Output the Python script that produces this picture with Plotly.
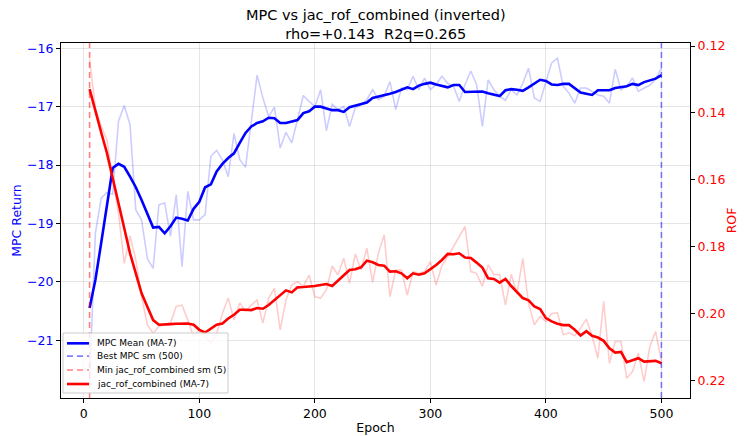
import plotly.graph_objects as go

epochs = list(range(5, 501, 5))

mpc_raw = [
    -21.71, -19.17, -18.57, -18.47, -18.50, -17.25, -16.98, -17.31, -18.77, -18.94,
    -19.60, -19.77, -18.68, -18.65, -19.22, -18.51, -19.74, -18.45, -18.94, -18.94,
    -18.85, -17.85, -17.75, -17.91, -18.20, -17.46, -17.91, -18.04, -17.25, -16.46,
    -16.85, -17.17, -17.01, -17.71, -17.44, -17.62, -17.22, -16.81, -16.91, -17.00,
    -16.71, -17.41, -16.96, -17.05, -17.00, -17.34, -17.02, -16.97, -16.88, -16.71,
    -16.88, -16.82, -16.57, -17.05, -16.68, -16.71, -16.48, -16.71, -16.51, -16.71,
    -16.62, -16.48, -16.60, -16.65, -16.91, -16.62, -16.39, -16.62, -17.34, -16.54,
    -16.71, -16.82, -16.89, -16.71, -16.80, -16.60, -16.34, -16.85, -16.91, -16.57,
    -16.25, -16.17, -16.65, -16.77, -16.94, -16.68, -16.68, -16.74, -16.80, -16.82,
    -16.94, -16.36, -16.71, -16.65, -16.51, -16.74, -16.68, -16.63, -16.53, -16.34,
]

mpc_ma7 = [
    -20.45, -19.97, -19.34, -18.65, -18.05, -17.98, -18.03, -18.20, -18.38, -18.60,
    -18.83, -19.07, -19.06, -19.17, -19.05, -18.90, -18.92, -18.95, -18.75, -18.63,
    -18.38, -18.33, -18.11, -17.98, -17.88, -17.80, -17.62, -17.45, -17.34, -17.28,
    -17.25, -17.19, -17.20, -17.28, -17.28, -17.25, -17.23, -17.11, -17.08, -17.00,
    -17.00, -17.03, -17.06, -17.06, -17.09, -17.01, -16.98, -16.96, -16.93, -16.85,
    -16.83, -16.81, -16.78, -16.75, -16.71, -16.67, -16.70, -16.64, -16.61, -16.59,
    -16.62, -16.65, -16.67, -16.63, -16.63, -16.75, -16.75, -16.75, -16.74, -16.77,
    -16.80, -16.82, -16.72, -16.70, -16.71, -16.73, -16.67, -16.60, -16.54, -16.56,
    -16.62, -16.63, -16.61, -16.61, -16.68, -16.76, -16.78, -16.80, -16.72, -16.72,
    -16.72, -16.68, -16.67, -16.65, -16.61, -16.63, -16.58, -16.55, -16.52, -16.46,
]

rof_raw = [
    0.1240, 0.1385, 0.1440, 0.1480, 0.1600, 0.1700, 0.1850, 0.1768, 0.1840, 0.1950,
    0.2034, 0.2059, 0.2039, 0.2034, 0.2029, 0.1979, 0.1975, 0.2020, 0.2069, 0.2049,
    0.2069, 0.2089, 0.2059, 0.2000, 0.1954, 0.2020, 0.1969, 0.1994, 0.1975, 0.1960,
    0.2029, 0.1954, 0.1925, 0.2049, 0.1960, 0.1915, 0.1905, 0.1920, 0.1885, 0.1950,
    0.1954, 0.1930, 0.1858, 0.1885, 0.1835, 0.1910, 0.1822, 0.1870, 0.1805, 0.1907,
    0.1820, 0.1765, 0.1950, 0.1870, 0.1870, 0.1945, 0.1875, 0.1880, 0.1875, 0.1845,
    0.1915, 0.1857, 0.1830, 0.1800, 0.1770, 0.1740, 0.1875, 0.1880, 0.1919, 0.1855,
    0.1884, 0.1884, 0.1975, 0.1883, 0.1940, 0.1835, 0.1970, 0.2034, 0.2009, 0.2024,
    0.2000, 0.1998, 0.2064, 0.2058, 0.2067, 0.2044, 0.2017, 0.2067, 0.2134, 0.1964,
    0.2149, 0.2084, 0.2084, 0.2194, 0.2174, 0.2119, 0.2204, 0.2099, 0.2054, 0.2144,
]

rof_ma7 = [
    0.1329, 0.1396, 0.1458, 0.1520, 0.1595, 0.1670, 0.1750, 0.1820, 0.1880, 0.1940,
    0.1980, 0.2020, 0.2034, 0.2034, 0.2032, 0.2031, 0.2030, 0.2030, 0.2034, 0.2049,
    0.2057, 0.2046, 0.2034, 0.2030, 0.2015, 0.2004, 0.1989, 0.1989, 0.1990, 0.1984,
    0.1986, 0.1975, 0.1960, 0.1945, 0.1931, 0.1937, 0.1922, 0.1921, 0.1920, 0.1918,
    0.1915, 0.1912, 0.1918, 0.1901, 0.1885, 0.1870, 0.1868, 0.1862, 0.1842, 0.1847,
    0.1855, 0.1857, 0.1875, 0.1874, 0.1880, 0.1895, 0.1880, 0.1884, 0.1880, 0.1868,
    0.1855, 0.1840, 0.1822, 0.1823, 0.1820, 0.1833, 0.1834, 0.1848, 0.1863, 0.1895,
    0.1897, 0.1908, 0.1897, 0.1918, 0.1937, 0.1954, 0.1961, 0.1979, 0.1987, 0.2014,
    0.2024, 0.2031, 0.2035, 0.2035, 0.2049, 0.2066, 0.2053, 0.2067, 0.2072, 0.2082,
    0.2104, 0.2117, 0.2115, 0.2146, 0.2140, 0.2134, 0.2144, 0.2142, 0.2142, 0.2149,
]

best_mpc_epoch = 500
min_rof_epoch = 5

x_ticks = [0, 100, 200, 300, 400, 500]
left_ticks = [-16, -17, -18, -19, -20, -21]
right_ticks = [0.12, 0.14, 0.16, 0.18, 0.20, 0.22]

title_line1 = "MPC vs jac_rof_combined (inverted)"
title_line2 = "rho=+0.143  R2q=0.265"

legend_names = [
    "MPC Mean (MA-7)",
    f"Best MPC sm ({best_mpc_epoch})",
    f"Min jac_rof_combined sm ({min_rof_epoch})",
    "jac_rof_combined (MA-7)",
]

FONT = "DejaVu Sans"

BLUE = "#0000ff"
RED = "#ff0000"
BLUE_RAW = "rgba(0,0,255,0.2)"
RED_RAW = "rgba(255,0,0,0.2)"
BLUE_V = "rgba(0,0,255,0.5)"
RED_V = "rgba(255,0,0,0.5)"
DASH = "6px,4px"

legend_styles = [
    dict(color=BLUE, width=2.6, dash="solid"),
    dict(color=BLUE_V, width=1.6, dash=DASH),
    dict(color=RED_V, width=1.6, dash=DASH),
    dict(color=RED, width=2.6, dash="solid"),
]

fig = go.Figure()

fig.add_trace(go.Scatter(x=epochs, y=mpc_raw, mode="lines",
                         line=dict(color=BLUE_RAW, width=1.6), hoverinfo="skip"))
fig.add_trace(go.Scatter(x=epochs, y=mpc_ma7, mode="lines", name=legend_names[0],
                         line=legend_styles[0]))
fig.add_trace(go.Scatter(x=[best_mpc_epoch, best_mpc_epoch], y=[0, 1], yaxis="y3",
                         mode="lines", name=legend_names[1], line=legend_styles[1]))
fig.add_trace(go.Scatter(x=[min_rof_epoch, min_rof_epoch], y=[0, 1], yaxis="y3",
                         mode="lines", name=legend_names[2], line=legend_styles[2]))
fig.add_trace(go.Scatter(x=epochs, y=rof_raw, yaxis="y2", mode="lines",
                         line=dict(color=RED_RAW, width=1.6), hoverinfo="skip"))
fig.add_trace(go.Scatter(x=epochs, y=rof_ma7, yaxis="y2", mode="lines",
                         name=legend_names[3], line=legend_styles[3]))

# compact legend box (matplotlib-like) in the lower-left corner of the axes
shapes = [dict(type="rect", xref="paper", yref="paper", x0=0.0032, x1=0.2655,
               y0=0.0141, y1=0.1831, line=dict(color="#cccccc", width=1),
               fillcolor="rgba(255,255,255,0.8)", layer="above")]
annotations = []
row_y = [0.154, 0.118, 0.0789, 0.0394]
for name, style, yy in zip(legend_names, legend_styles, row_y):
    shapes.append(dict(type="line", xref="paper", yref="paper", x0=0.0095, x1=0.0445,
                       y0=yy, y1=yy, line=style, layer="above"))
    annotations.append(dict(text=name, xref="paper", yref="paper", x=0.054, y=yy,
                            xanchor="left", yanchor="middle", showarrow=False,
                            font=dict(family=FONT, size=9, color="black")))

# the page body adds an 8px offset, so the figure is 8px smaller than the window
fig.update_layout(
    width=737, height=428,
    margin=dict(l=53, r=55, t=35, b=38, autoexpand=False),
    paper_bgcolor="white", plot_bgcolor="white",
    font=dict(family=FONT, size=12, color="black"),
    showlegend=False,
    shapes=shapes,
    annotations=annotations,
    title=dict(text=f"{title_line1}<br>{title_line2}", x=0.499, xanchor="center",
               y=0.972, yanchor="bottom", font=dict(family=FONT, size=14.5, color="black")),
    xaxis=dict(range=[-19.75, 524.75], tickvals=x_ticks, ticks="outside", ticklen=4,
               tickcolor="black", showline=True, linecolor="black", linewidth=1.2,
               mirror=True, showgrid=True, gridcolor="rgba(0,0,0,0.1)", zeroline=False,
               automargin=False,
               title=dict(text="Epoch", standoff=3, font=dict(size=12.5)),
               tickfont=dict(size=12.5, color="black")),
    yaxis=dict(range=[-21.99, -15.91], tickvals=left_ticks, ticks="outside", ticklen=4,
               tickcolor="black", showline=True, linecolor="black", linewidth=1.2,
               showgrid=True, gridcolor="rgba(0,0,0,0.1)", zeroline=False,
               automargin=False,
               tickfont=dict(size=12.5, color=BLUE),
               title=dict(text="MPC Return", standoff=2, font=dict(size=12.5, color=BLUE))),
    yaxis2=dict(overlaying="y", side="right", range=[0.2253, 0.1191], tickvals=right_ticks,
                tickformat=".2f", ticks="outside", ticklen=4, tickcolor="black",
                showline=True, linecolor="black", linewidth=1.2, showgrid=False,
                zeroline=False, automargin=False,
                tickfont=dict(size=12.5, color=RED),
                title=dict(text="ROF", standoff=2, font=dict(size=12.5, color=RED))),
    yaxis3=dict(overlaying="y", range=[0, 1], visible=False, showgrid=False),
)

fig.write_html("out.html")
